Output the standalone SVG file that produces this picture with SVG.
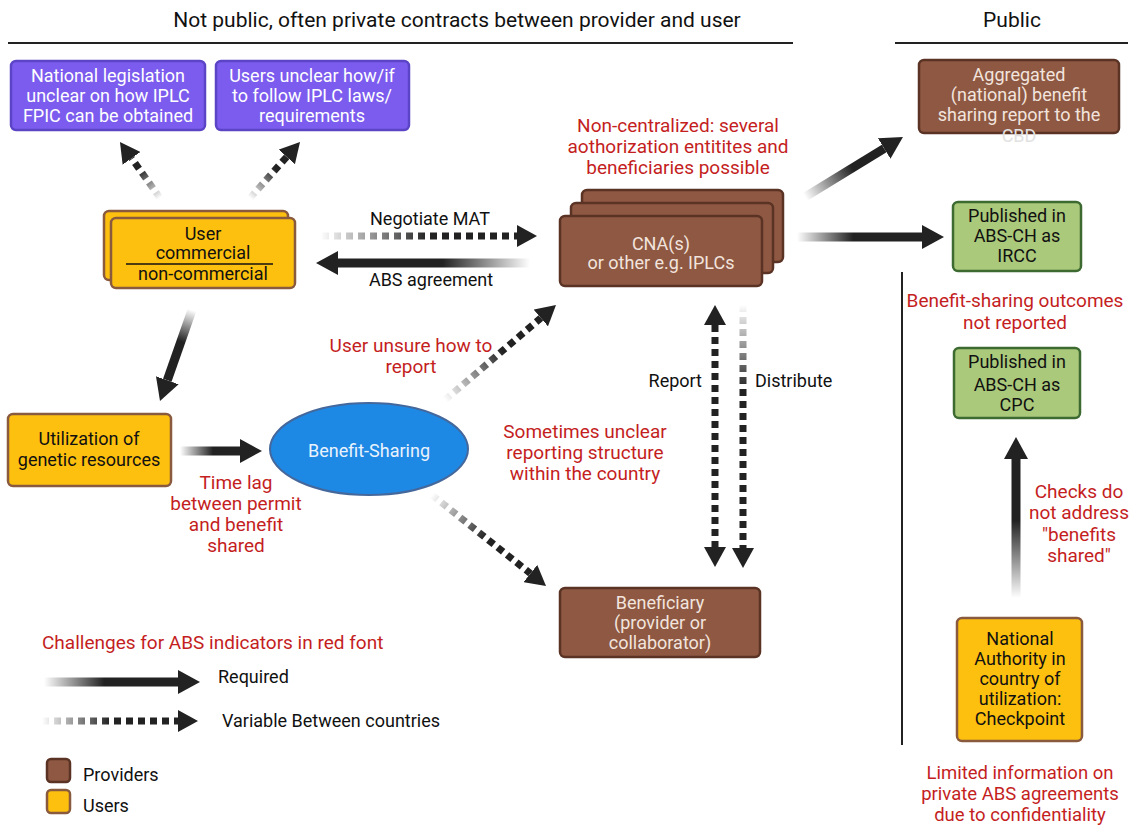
<svg xmlns="http://www.w3.org/2000/svg" width="1132" height="827" viewBox="0 0 1132 827">
<defs>
<style>
text{font-family:Roboto,"Liberation Sans",sans-serif;font-size:18px;text-anchor:middle}
.t{font-size:21px;fill:#111}
.red{fill:#C41E1E;font-size:19px}
.wh{fill:#fff}
.lt{fill:#F2E4DD}
.bk{fill:#111}
.lft{text-anchor:start}
.prov{fill:#8E5843;stroke:#5A3324;stroke-width:2.5}
.user{fill:#FDC00E;stroke:#8A5A3E;stroke-width:2.5}
.purp{fill:#7B5CEE;stroke:#5B44C6;stroke-width:2.5}
.grn{fill:#ABC97B;stroke:#3C6A31;stroke-width:2.5}
.sol{fill:none;stroke-width:9}
.dot{fill:none;stroke-width:7;stroke-dasharray:7 5}
</style>
<marker id="ah" viewBox="0 -12 22 24" refX="0" refY="0" markerWidth="22" markerHeight="24" markerUnits="userSpaceOnUse" orient="auto-start-reverse">
<path d="M0,-12 L22,0 L0,12 z" fill="#222"/>
</marker>
<marker id="ahd" viewBox="0 -11 20 22" refX="0" refY="0" markerWidth="20" markerHeight="22" markerUnits="userSpaceOnUse" orient="auto-start-reverse">
<path d="M0,-11 L20,0 L0,11 z" fill="#222"/>
</marker>
<linearGradient id="g1" gradientUnits="userSpaceOnUse" x1="160" y1="198" x2="131" y2="158"><stop offset="0" stop-color="#222" stop-opacity="0"/><stop offset="0.7" stop-color="#222"/></linearGradient>
<linearGradient id="g2" gradientUnits="userSpaceOnUse" x1="250" y1="198" x2="287" y2="157"><stop offset="0" stop-color="#222" stop-opacity="0"/><stop offset="0.7" stop-color="#222"/></linearGradient>
<linearGradient id="g3" gradientUnits="userSpaceOnUse" x1="320" y1="0" x2="517" y2="0"><stop offset="0" stop-color="#222" stop-opacity="0"/><stop offset="0.55" stop-color="#222"/></linearGradient>
<linearGradient id="g4" gradientUnits="userSpaceOnUse" x1="530" y1="0" x2="336" y2="0"><stop offset="0" stop-color="#222" stop-opacity="0"/><stop offset="0.45" stop-color="#222"/></linearGradient>
<linearGradient id="g5" gradientUnits="userSpaceOnUse" x1="805" y1="197" x2="884" y2="149"><stop offset="0" stop-color="#222" stop-opacity="0"/><stop offset="0.6" stop-color="#222"/></linearGradient>
<linearGradient id="g6" gradientUnits="userSpaceOnUse" x1="797" y1="0" x2="922" y2="0"><stop offset="0" stop-color="#222" stop-opacity="0"/><stop offset="0.45" stop-color="#222"/></linearGradient>
<linearGradient id="g7" gradientUnits="userSpaceOnUse" x1="192" y1="310" x2="167" y2="380"><stop offset="0" stop-color="#222" stop-opacity="0"/><stop offset="0.45" stop-color="#222"/></linearGradient>
<linearGradient id="g8" gradientUnits="userSpaceOnUse" x1="180" y1="0" x2="240" y2="0"><stop offset="0" stop-color="#222" stop-opacity="0"/><stop offset="0.55" stop-color="#222"/></linearGradient>
<linearGradient id="g9" gradientUnits="userSpaceOnUse" x1="445" y1="400" x2="541" y2="318"><stop offset="0" stop-color="#222" stop-opacity="0"/><stop offset="0.6" stop-color="#222"/></linearGradient>
<linearGradient id="g10" gradientUnits="userSpaceOnUse" x1="432" y1="495" x2="530" y2="573"><stop offset="0" stop-color="#222" stop-opacity="0"/><stop offset="0.55" stop-color="#222"/></linearGradient>
<linearGradient id="g11" gradientUnits="userSpaceOnUse" x1="0" y1="305" x2="0" y2="548"><stop offset="0" stop-color="#222" stop-opacity="0"/><stop offset="0.35" stop-color="#222"/></linearGradient>
<linearGradient id="g12" gradientUnits="userSpaceOnUse" x1="0" y1="598" x2="0" y2="457"><stop offset="0" stop-color="#222" stop-opacity="0"/><stop offset="0.55" stop-color="#222"/></linearGradient>
<linearGradient id="g13" gradientUnits="userSpaceOnUse" x1="44" y1="0" x2="178" y2="0"><stop offset="0" stop-color="#222" stop-opacity="0"/><stop offset="0.45" stop-color="#222"/></linearGradient>
<linearGradient id="g14" gradientUnits="userSpaceOnUse" x1="42" y1="0" x2="178" y2="0"><stop offset="0" stop-color="#222" stop-opacity="0"/><stop offset="0.5" stop-color="#222"/></linearGradient>
</defs>
<rect width="1132" height="827" fill="#fff"/>

<g id="headers">
<text class="t" x="457" y="27">Not public, often private contracts between provider and user</text>
<line x1="8" y1="43" x2="793" y2="43" stroke="#222" stroke-width="2"/>
<text class="t" x="1012" y="27">Public</text>
<line x1="895" y1="43" x2="1128" y2="43" stroke="#222" stroke-width="2"/>
<line x1="902" y1="272" x2="902" y2="745" stroke="#222" stroke-width="2"/>
</g>

<g id="connectors">
<line class="dot" x1="160" y1="198" x2="131.6" y2="158.3" stroke="url(#g1)" marker-end="url(#ahd)"/>
<line class="dot" x1="250" y1="198" x2="286.7" y2="156.9" stroke="url(#g2)" marker-end="url(#ahd)"/>
<line class="dot" x1="322" y1="236" x2="517" y2="236" stroke="url(#g3)" marker-end="url(#ahd)"/>
<line class="sol" x1="530" y1="263" x2="338" y2="263" stroke="url(#g4)" marker-end="url(#ah)"/>
<line class="sol" x1="805" y1="197" x2="884.2" y2="148.5" stroke="url(#g5)" marker-end="url(#ah)"/>
<line class="sol" x1="797" y1="237" x2="922" y2="237" stroke="url(#g6)" marker-end="url(#ah)"/>
<line class="sol" x1="192" y1="310" x2="167.3" y2="380.3" stroke="url(#g7)" marker-end="url(#ah)"/>
<line class="sol" x1="180" y1="451" x2="240" y2="451" stroke="url(#g8)" marker-end="url(#ah)"/>
<line class="dot" x1="445" y1="400" x2="540.8" y2="318" stroke="url(#g9)" marker-end="url(#ahd)"/>
<line class="dot" x1="432" y1="495" x2="530.4" y2="573.5" stroke="url(#g10)" marker-end="url(#ahd)"/>
<line class="dot" x1="715" y1="325" x2="715" y2="547" stroke="#222" marker-start="url(#ahd)" marker-end="url(#ahd)"/>
<line class="dot" x1="743" y1="305" x2="743" y2="548" stroke="url(#g11)" marker-end="url(#ahd)"/>
<line class="sol" x1="1016" y1="598" x2="1016" y2="459" stroke="url(#g12)" stroke-width="8" marker-end="url(#ah)"/>
</g>

<g id="n-legislation">
<rect class="purp" x="11" y="61" width="194" height="69" rx="5"/>
<text class="wh" x="108" y="82">National legislation</text>
<text class="wh" x="108" y="102">unclear on how IPLC</text>
<text class="wh" x="108" y="122">FPIC can be obtained</text>
</g>
<g id="n-users-unclear">
<rect class="purp" x="216" y="61" width="193" height="69" rx="5"/>
<text class="wh" x="312" y="82">Users unclear how/if</text>
<text class="wh" x="312" y="102">to follow IPLC laws/</text>
<text class="wh" x="312" y="122">requirements</text>
</g>
<g id="n-user">
<rect class="user" x="104" y="211" width="184" height="69" rx="5"/>
<rect class="user" x="111" y="218" width="184" height="70" rx="5"/>
<text class="bk" x="203" y="240">User</text>
<text class="bk" x="203" y="259">commercial</text>
<line x1="126" y1="264" x2="273" y2="264" stroke="#111" stroke-width="1.5"/>
<text class="bk" x="203" y="280">non-commercial</text>
</g>
<g id="lbl-mat">
<text class="bk" x="430" y="225">Negotiate MAT</text>
<text class="bk" x="431" y="286">ABS agreement</text>
</g>
<g id="n-cna">
<rect class="prov" x="582" y="190" width="201" height="72" rx="5"/>
<rect class="prov" x="571" y="203" width="202" height="70" rx="5"/>
<rect class="prov" x="560" y="216" width="202" height="70" rx="5"/>
<text class="lt" x="661" y="250">CNA(s)</text>
<text class="lt" x="661" y="269">or other e.g. IPLCs</text>
</g>
<g id="lbl-noncentral">
<text class="red" x="678" y="132">Non-centralized: several</text>
<text class="red" x="678" y="153">aothorization entitites and</text>
<text class="red" x="678" y="174">beneficiaries possible</text>
</g>
<g id="n-aggregated">
<rect class="prov" x="919" y="60" width="200" height="73" rx="5"/>
<text class="lt" x="1019" y="81">Aggregated</text>
<text class="lt" x="1019" y="101">(national) benefit</text>
<text class="lt" x="1019" y="121">sharing report to the</text>
<text x="1019" y="142" fill="#E2E2E2">CBD</text>
</g>
<g id="n-ircc">
<rect class="grn" x="953" y="202" width="128" height="69" rx="5"/>
<text class="bk" x="1017" y="222">Published in</text>
<text class="bk" x="1017" y="242">ABS-CH as</text>
<text class="bk" x="1017" y="262">IRCC</text>
</g>
<g id="lbl-outcomes">
<text class="red" x="1015" y="307">Benefit-sharing outcomes</text>
<text class="red" x="1015" y="329">not reported</text>
</g>
<g id="n-cpc">
<rect class="grn" x="954" y="348" width="126" height="70" rx="5"/>
<text class="bk" x="1017" y="368">Published in</text>
<text class="bk" x="1017" y="391">ABS-CH as</text>
<text class="bk" x="1017" y="411">CPC</text>
</g>
<g id="lbl-checks">
<text class="red" x="1079" y="498">Checks do</text>
<text class="red" x="1079" y="519">not address</text>
<text class="red" x="1079" y="541">"benefits</text>
<text class="red" x="1079" y="562">shared"</text>
</g>
<g id="n-checkpoint">
<rect class="user" x="957" y="618" width="125" height="123" rx="5"/>
<text class="bk" x="1020" y="645">National</text>
<text class="bk" x="1020" y="665">Authority in</text>
<text class="bk" x="1020" y="685">country of</text>
<text class="bk" x="1020" y="705">utilization:</text>
<text class="bk" x="1020" y="725">Checkpoint</text>
</g>
<g id="lbl-limited">
<text class="red" x="1020" y="779" font-size="18.5" style="font-size:18.5px">Limited information on</text>
<text class="red" x="1020" y="800" style="font-size:18.5px">private ABS agreements</text>
<text class="red" x="1020" y="821" style="font-size:18.5px">due to confidentiality</text>
</g>
<g id="n-utilization">
<rect class="user" x="8" y="414" width="163" height="72" rx="5"/>
<text class="bk" x="89" y="445">Utilization of</text>
<text class="bk" x="89" y="466">genetic resources</text>
</g>
<g id="lbl-timelag">
<text class="red" x="236" y="489">Time lag</text>
<text class="red" x="236" y="510">between permit</text>
<text class="red" x="236" y="531">and benefit</text>
<text class="red" x="236" y="552">shared</text>
</g>
<g id="n-benefit-sharing">
<ellipse cx="369" cy="449" rx="99" ry="46" fill="#1E88E5" stroke="#44689C" stroke-width="2"/>
<text x="369" y="457" fill="#EAF3FC" font-size="22.5">Benefit-Sharing</text>
</g>
<g id="lbl-unsure">
<text class="red" x="411" y="352">User unsure how to</text>
<text class="red" x="411" y="373">report</text>
</g>
<g id="lbl-sometimes">
<text class="red" x="585" y="438">Sometimes unclear</text>
<text class="red" x="585" y="459">reporting structure</text>
<text class="red" x="585" y="480">within the country</text>
</g>
<g id="lbl-report">
<text class="bk" x="702" y="387" style="text-anchor:end">Report</text>
<text class="bk lft" x="755" y="387">Distribute</text>
</g>
<g id="n-beneficiary">
<rect class="prov" x="560" y="588" width="200" height="69" rx="5"/>
<text class="lt" x="660" y="609">Beneficiary</text>
<text class="lt" x="660" y="629">(provider or</text>
<text class="lt" x="660" y="649">collaborator)</text>
</g>
<g id="legend">
<text class="red lft" x="42" y="649">Challenges for ABS indicators in red font</text>
<line class="sol" x1="44" y1="682" x2="178" y2="682" stroke="url(#g13)" stroke-width="8" marker-end="url(#ah)"/>
<text class="bk lft" x="218" y="683">Required</text>
<line class="dot" x1="42" y1="721" x2="178" y2="721" stroke="url(#g14)" marker-end="url(#ahd)"/>
<text class="bk lft" x="222" y="727">Variable Between countries</text>
<rect class="prov" x="47" y="759" width="23" height="23" rx="4" stroke-width="2.5"/>
<text class="bk lft" x="83" y="781">Providers</text>
<rect class="user" x="47" y="790" width="23" height="23" rx="4" stroke-width="2.5"/>
<text class="bk lft" x="83" y="812">Users</text>
</g>
</svg>
